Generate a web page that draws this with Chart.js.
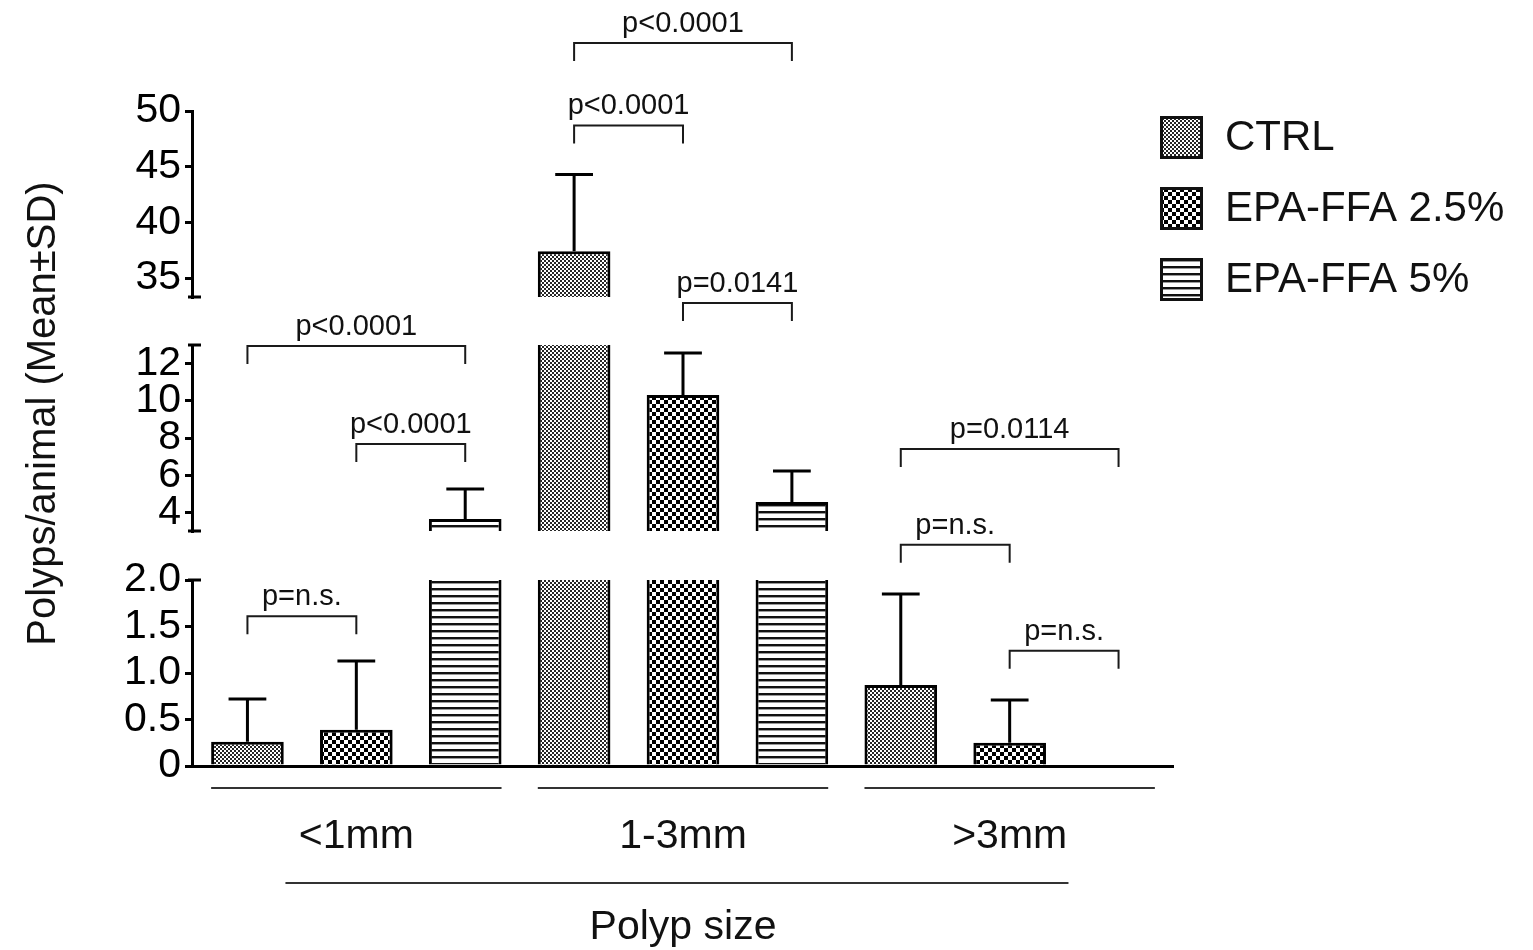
<!DOCTYPE html>
<html>
<head>
<meta charset="utf-8">
<script src="https://cdn.jsdelivr.net/npm/chart.js@4.4.1/dist/chart.umd.min.js"></script>
<style>
  html, body { margin: 0; padding: 0; background: #fff; }
  #wrap { width: 1533px; height: 950px; }
</style>
</head>
<body>
<div id="wrap"><canvas id="polypChart"></canvas></div>
<script>
const categories = ['<1mm', '1-3mm', '>3mm'];
const seriesNames = ['CTRL', 'EPA-FFA 2.5%', 'EPA-FFA 5%'];
const ctrlMean = [0.26, 37.4, 0.87];
const ctrlSD = [0.46, 6.9, 0.98];
const epa25Mean = [0.39, 10.31, 0.25];
const epa25SD = [0.74, 2.26, 0.46];
const epa5Mean = [3.65, 4.56, 0];
const epa5SD = [1.61, 1.67, 0];

// broken y axis, segments from bottom to top
const segMin = [0, 3, 33.3];
const segMax = [2, 13, 50];
const lowTicks = [0, 0.5, 1, 1.5, 2];
const midTicks = [4, 6, 8, 10, 12];
const topTicks = [35, 40, 45, 50];

// significance brackets (group, from series, to series, segment, level, text)
const brGroup = [0, 0, 0, 1, 1, 1, 2, 2, 2];
const brFrom = [0, 1, 0, 0, 0, 1, 0, 1, 0];
const brTo = [1, 2, 2, 1, 2, 2, 1, 2, 2];
const brSeg = [0, 1, 1, 2, 2, 1, 0, 0, 1];
const brLevel = [1.61, 7.68, 12.95, 48.7, 56.1, 15.26, 2.38, 1.24, 7.41];
const brLabel = ['p=n.s.', 'p<0.0001', 'p<0.0001', 'p<0.0001', 'p<0.0001', 'p=0.0141', 'p=n.s.', 'p=n.s.', 'p=0.0114'];

const FONT = 'Liberation Sans, Arial, Helvetica, sans-serif';
const means = [ctrlMean, epa25Mean, epa5Mean];
const sds = [ctrlSD, epa25SD, epa5SD];
const segTicks = [lowTicks, midTicks, topTicks];
const stackNames = ['ctrl', 'epa25', 'epa5'];
const yIds = ['yLow', 'yMid', 'yTop'];

function makePattern(kind) {
    const c = document.createElement('canvas');
    const g = c.getContext('2d');
    if (kind === 0) {
        c.width = 4; c.height = 4;
        g.fillStyle = '#fff'; g.fillRect(0, 0, 4, 4);
        g.fillStyle = '#262626';
        g.fillRect(0, 0, 2, 2); g.fillRect(2, 2, 2, 2);
    } else if (kind === 1) {
        c.width = 8; c.height = 8;
        g.fillStyle = '#fff'; g.fillRect(0, 0, 8, 8);
        g.fillStyle = '#000';
        g.fillRect(0, 0, 4, 4); g.fillRect(4, 4, 4, 4);
    } else {
        c.width = 7; c.height = 7;
        g.fillStyle = '#fff'; g.fillRect(0, 0, 7, 7);
        g.fillStyle = '#111'; g.fillRect(0, 0, 7, 2);
        g.fillStyle = '#999'; g.fillRect(0, 2, 7, 1);
    }
    return g.createPattern(c, 'repeat');
}
const patterns = [makePattern(0), makePattern(1), makePattern(2)];

const datasets = [];
means.forEach((m, s) => {
    for (let k = 0; k < 3; k++) {
        datasets.push({
            label: seriesNames[s],
            data: m.map(v => v > segMin[k] ? [segMin[k], Math.min(v, segMax[k])] : null),
            yAxisID: yIds[k],
            stack: stackNames[s],
            backgroundColor: patterns[s],
            borderColor: '#000',
            borderSkipped: false,
            borderWidth: ctx => ({
                left: 3, right: 3, bottom: 0,
                top: m[ctx.dataIndex] <= segMax[k] ? 3 : 0
            }),
            barPercentage: 0.667,
            categoryPercentage: 1.0
        });
    }
});

function segAxis(k) {
    return {
        type: 'linear',
        position: 'left',
        stack: 'y',
        stackWeight: 186,
        min: segMin[k],
        max: segMax[k],
        stacked: false,
        afterBuildTicks: scale => {
            scale.ticks = segTicks[k].map(v => ({ value: v }));
        },
        grid: { display: true, drawOnChartArea: false, drawTicks: true, tickLength: 8, lineWidth: 3, color: '#000' },
        border: { display: true, color: '#000', width: 3 },
        ticks: {
            autoSkip: false,
            padding: 4,
            color: '#000',
            font: { family: FONT, size: 41 },
            callback: v => k === 0 ? (v === 0 ? '0' : v.toFixed(1)) : String(v)
        }
    };
}
function gapAxis(w) {
    return { type: 'linear', position: 'left', stack: 'y', stackWeight: w, display: false };
}

function segOf(v) {
    if (v <= segMax[0]) return 0;
    if (v <= segMax[1]) return 1;
    return 2;
}
function barEl(chart, s, k, i) {
    return chart.getDatasetMeta(s * 3 + k).data[i];
}

const breakPlugin = {
    id: 'breakDecor',
    afterDatasetsDraw(chart) {
        const ctx = chart.ctx;
        ctx.save();
        ctx.strokeStyle = '#000';
        ctx.lineWidth = 3;
        ctx.lineCap = 'butt';
        // error bars (mean + SD)
        means.forEach((m, s) => {
            m.forEach((v, i) => {
                const d = sds[s][i];
                if (!(d > 0)) return;
                const el = barEl(chart, s, segOf(v), i);
                const x = el.x;
                const y0 = chart.scales[yIds[segOf(v)]].getPixelForValue(v);
                const y1 = chart.scales[yIds[segOf(v + d)]].getPixelForValue(v + d);
                const cap = el.width * 0.26;
                ctx.beginPath();
                ctx.moveTo(x, y0);
                ctx.lineTo(x, y1);
                ctx.moveTo(x - cap, y1);
                ctx.lineTo(x + cap, y1);
                ctx.stroke();
            });
        });
        // significance brackets
        ctx.lineWidth = 2;
        ctx.strokeStyle = '#1a1a1a';
        ctx.fillStyle = '#111';
        ctx.font = '29px ' + FONT;
        ctx.textAlign = 'center';
        ctx.textBaseline = 'alphabetic';
        brLabel.forEach((txt, b) => {
            const xa = barEl(chart, brFrom[b], 0, brGroup[b]).x;
            const xb = barEl(chart, brTo[b], 0, brGroup[b]).x;
            const y = chart.scales[yIds[brSeg[b]]].getPixelForValue(brLevel[b]);
            ctx.beginPath();
            ctx.moveTo(xa, y + 18);
            ctx.lineTo(xa, y);
            ctx.lineTo(xb, y);
            ctx.lineTo(xb, y + 18);
            ctx.stroke();
            ctx.fillText(txt, (xa + xb) / 2, y - 11);
        });
        ctx.restore();
    },
    afterDraw(chart) {
        const ctx = chart.ctx;
        const area = chart.chartArea;
        const xs = chart.scales.x;
        ctx.save();
        // caps at axis breaks
        ctx.strokeStyle = '#000';
        ctx.lineWidth = 3;
        const capYs = [
            chart.scales.yLow.top,
            chart.scales.yMid.bottom, chart.scales.yMid.top,
            chart.scales.yTop.bottom
        ];
        capYs.forEach(y => {
            ctx.beginPath();
            ctx.moveTo(area.left - 5, y);
            ctx.lineTo(area.left + 8, y);
            ctx.stroke();
        });
        // group underlines and the long line under the category labels
        ctx.strokeStyle = '#333';
        ctx.lineWidth = 2;
        categories.forEach((c, i) => {
            const a = barEl(chart, 0, 0, i);
            const b = barEl(chart, 2, 0, i);
            ctx.beginPath();
            ctx.moveTo(a.x - a.width / 2, area.bottom + 22);
            ctx.lineTo(b.x + b.width / 2, area.bottom + 22);
            ctx.stroke();
        });
        ctx.beginPath();
        ctx.moveTo(xs.getPixelForValue(-0.217), area.bottom + 117);
        ctx.lineTo(xs.getPixelForValue(2.18), area.bottom + 117);
        ctx.stroke();
        // y axis title
        ctx.fillStyle = '#111';
        ctx.font = '40px ' + FONT;
        ctx.textAlign = 'center';
        ctx.textBaseline = 'middle';
        ctx.save();
        ctx.translate(area.left - 149, (area.top + area.bottom) / 2 - 25);
        ctx.rotate(-Math.PI / 2);
        ctx.fillText('Polyps/animal (Mean\u00B1SD)', 0, 0);
        ctx.restore();
        // legend
        ctx.font = '42px ' + FONT;
        ctx.textAlign = 'left';
        seriesNames.forEach((name, s) => {
            const bx = area.right - 13;
            const by = area.top + 5 + s * 71;
            ctx.fillStyle = patterns[s];
            ctx.fillRect(bx, by, 43, 43);
            ctx.strokeStyle = '#111';
            ctx.lineWidth = 3;
            ctx.strokeRect(bx + 1.5, by + 1.5, 40, 40);
            ctx.fillStyle = '#111';
            ctx.fillText(name, bx + 65, by + 22);
        });
        ctx.restore();
    }
};

const chart = new Chart(document.getElementById('polypChart'), {
    type: 'bar',
    data: { labels: categories, datasets: datasets },
    options: {
        responsive: true,
        maintainAspectRatio: false,
        animation: false,
        layout: { padding: { left: 120, right: 360, top: 111, bottom: 0 } },
        plugins: {
            legend: { display: false },
            tooltip: { enabled: false }
        },
        scales: {
            x: {
                type: 'category',
                offset: true,
                grid: { display: false, drawTicks: false },
                border: { display: true, color: '#000', width: 3 },
                ticks: { color: '#111', padding: 50, font: { family: FONT, size: 41, lineHeight: 1.0 } },
                title: {
                    display: true, text: 'Polyp size', color: '#111',
                    font: { family: FONT, size: 41, lineHeight: 1.0 },
                    padding: { top: 0, bottom: 2 }
                }
            },
            yLow: segAxis(0),
            yGap1: gapAxis(49),
            yMid: segAxis(1),
            yGap2: gapAxis(48),
            yTop: segAxis(2)
        }
    },
    plugins: [breakPlugin]
});
</script>
</body>
</html>
